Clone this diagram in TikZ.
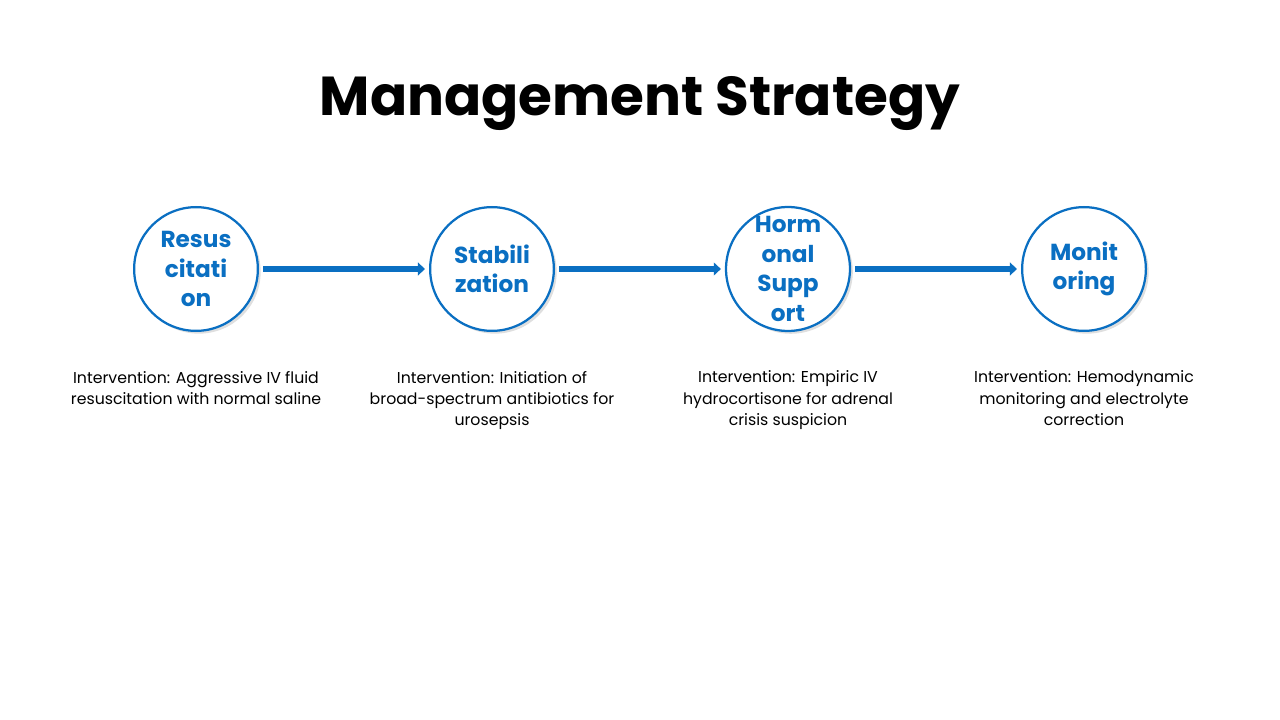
\documentclass[tikz,border=0pt]{standalone}
\usepackage{fontspec}
\setmainfont{Poppins}
\usetikzlibrary{shadows,arrows.meta}
\definecolor{blu}{HTML}{0A6FC2}
\begin{document}
\begin{tikzpicture}[x=0.025cm,y=-0.025cm,
  stepc/.style={circle,draw=blu,line width=1.6pt,fill=white,minimum size=88pt,inner sep=0pt,align=center,text=blu,font=\fontsize{16.5}{21}\selectfont\bfseries,drop shadow={shadow xshift=2pt,shadow yshift=-2pt,opacity=0.25}},
  desc/.style={align=center,font=\fontsize{11.2}{15}\selectfont,text=black},
  arr/.style={draw=blu,line width=4.5pt,-{Triangle[length=5pt,width=9pt]}}]
\useasboundingbox (0,0) rectangle (1280,720);
\node[font=\fontsize{39}{44}\selectfont\bfseries] (t) at (640,104) {Management Strategy};
\node[stepc] (a) at (196,269) {Resus\\citati\\on};
\node[stepc] (b) at (492,269) {Stabili\\zation};
\node[stepc] (c) at (788,269) {Horm\\onal\\Supp\\ort};
\node[stepc] (d) at (1084,269) {Monit\\oring};
\path (a.east)++(4,0) coordinate (a1) (b.west)++(-4,0) coordinate (b0);
\draw[arr] (a1) -- (b0);
\path (b.east)++(4,0) coordinate (b1) (c.west)++(-4,0) coordinate (c0);
\draw[arr] (b1) -- (c0);
\path (c.east)++(4,0) coordinate (c1) (d.west)++(-4,0) coordinate (d0);
\draw[arr] (c1) -- (d0);
\node[desc,anchor=north] (da) at (196,366) {Intervention: Aggressive IV fluid\\resuscitation with normal saline};
\node[desc,anchor=north] (db) at (492,366) {Intervention: Initiation of\\broad-spectrum antibiotics for\\urosepsis};
\node[desc,anchor=north] (dc) at (788,366) {Intervention: Empiric IV\\hydrocortisone for adrenal\\crisis suspicion};
\node[desc,anchor=north] (dd) at (1084,366) {Intervention: Hemodynamic\\monitoring and electrolyte\\correction};
\end{tikzpicture}
\end{document}
